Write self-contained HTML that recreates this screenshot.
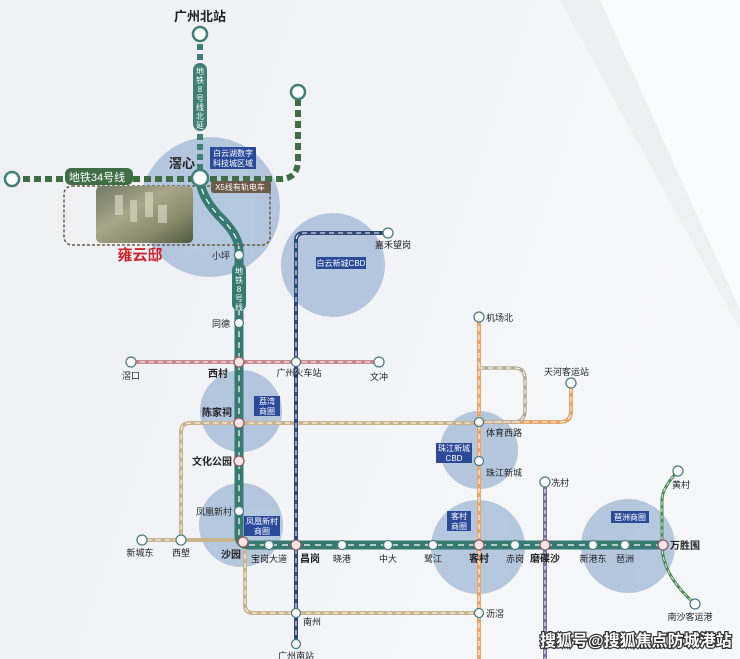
<!DOCTYPE html>
<html><head><meta charset="utf-8">
<style>
html,body{margin:0;padding:0;width:740px;height:659px;overflow:hidden;background:#f2f3f6}
svg{display:block}
text{font-family:"Liberation Sans","Noto Sans CJK SC",sans-serif;fill:#222}
</style></head><body>
<svg width="740" height="659" viewBox="0 0 740 659" xmlns="http://www.w3.org/2000/svg">
<defs>
<linearGradient id="bg" x1="0" y1="0" x2="1" y2="0.3">
<stop offset="0" stop-color="#eef0f4"/><stop offset="1" stop-color="#f6f7f9"/>
</linearGradient>
<linearGradient id="ph" x1="0" y1="0" x2="1" y2="1">
<stop offset="0" stop-color="#6f7a62"/><stop offset="0.4" stop-color="#a9a58a"/><stop offset="0.7" stop-color="#8a8a6c"/><stop offset="1" stop-color="#4c5a3e"/>
</linearGradient>
</defs>
<rect width="740" height="659" fill="url(#bg)"/>
<polygon points="600,0 740,0 740,310" fill="#fafbfc"/>
<polygon points="560,0 600,0 740,310 740,330" fill="#e9ebef" opacity="0.6"/>

<g fill="#a9bfd9" opacity="0.85">
<circle cx="210" cy="207" r="70"/>
<circle cx="333" cy="265" r="52"/>
<circle cx="241" cy="411" r="41"/>
<circle cx="241" cy="525" r="42"/>
<circle cx="479" cy="450" r="39"/>
<circle cx="478" cy="547" r="47"/>
<circle cx="628" cy="546" r="47"/>
</g>

<g fill="none" stroke="#c9b48e" stroke-width="4">
<path d="M479,423 H190 Q181,423 181,432 V540 H142"/>
<path d="M181,540 H239"/>
<path d="M245,545 V605 Q245,613 253,613 H479"/>
</g>
<g fill="none" stroke="#fff" stroke-width="1" stroke-dasharray="5 4">
<path d="M479,423 H190 Q181,423 181,432 V540 H142"/>
<path d="M245,545 V605 Q245,613 253,613 H479"/>
</g>

<g fill="none" stroke="#eaa56a" stroke-width="4">
<path d="M479,317 V659"/>
<path d="M479,422 H560 Q571,422 571,411 V383"/>
</g>
<path d="M479,368 H515 Q525,368 525,380 V410 Q525,422 513,422 H479" fill="none" stroke="#b9ab93" stroke-width="3.5"/>
<g fill="none" stroke="#fff" stroke-width="1" stroke-dasharray="5 4">
<path d="M479,317 V659"/><path d="M479,422 H560 Q571,422 571,411 V383"/>
<path d="M479,368 H515 Q525,368 525,380 V410 Q525,422 513,422 H479"/>
</g>

<path d="M131,362 H379" stroke="#c98a8f" stroke-width="4"/>
<path d="M131,362 H379" stroke="#fff" stroke-width="1" stroke-dasharray="5 4"/>

<path d="M296,644 V241 Q296,233 304,233 H388" fill="none" stroke="#2f4a7a" stroke-width="4"/>
<path d="M296,644 V241 Q296,233 304,233 H388" fill="none" stroke="#fff" stroke-width="1" stroke-dasharray="5 4"/>

<path d="M545,482 V659" stroke="#6f73a6" stroke-width="4"/>
<path d="M545,482 V659" stroke="#fff" stroke-width="1" stroke-dasharray="4 3"/>

<path d="M678,471 Q662,488 662,500 V545 Q662,575 695,604" fill="none" stroke="#4b8a55" stroke-width="3"/>
<path d="M678,471 Q662,488 662,500 V545 Q662,575 695,604" fill="none" stroke="#fff" stroke-width="0.8" stroke-dasharray="4 3"/>

<path d="M12,179 H280 Q298,179 298,160 V92" fill="none" stroke="#3f6e45" stroke-width="6" stroke-dasharray="7 4"/>
<path d="M200,34 V178" stroke="#3f7f76" stroke-width="6" stroke-dasharray="6 4"/>
<rect x="193" y="63" width="14" height="68" rx="7" fill="#3f7f76"/>
<text font-size="8" style="fill:#fff" text-anchor="middle">
<tspan x="200" y="74">地</tspan><tspan x="200" y="83">铁</tspan><tspan x="200" y="92">8</tspan><tspan x="200" y="101">号</tspan><tspan x="200" y="110">线</tspan><tspan x="200" y="119">北</tspan><tspan x="200" y="128">延</tspan>
</text>

<path d="M200,178 Q200,195 218,215 Q239,235 239,250 V535 Q239,545 249,545 H665" fill="none" stroke="#367a72" stroke-width="9"/>
<path d="M200,178 Q200,195 218,215 Q239,235 239,250 V535 Q239,545 249,545 H665" fill="none" stroke="#fff" stroke-width="1.2" stroke-dasharray="6 5"/>
<rect x="232" y="263" width="14" height="48" rx="7" fill="#367a72"/>
<text font-size="8" style="fill:#fff" text-anchor="middle"><tspan x="239" y="274">地</tspan><tspan x="239" y="283">铁</tspan><tspan x="239" y="292">8</tspan><tspan x="239" y="301">号</tspan><tspan x="239" y="310">线</tspan></text>

<rect x="64" y="186" width="206" height="59" rx="8" fill="none" stroke="#6b5a48" stroke-width="1.5" stroke-dasharray="3 2"/>
<rect x="96" y="186" width="97" height="57" rx="5" fill="url(#ph)"/>
<g fill="#d8d4c0" opacity="0.7"><rect x="115" y="195" width="8" height="20"/><rect x="130" y="200" width="7" height="22"/><rect x="145" y="192" width="8" height="25"/><rect x="158" y="205" width="9" height="18"/></g>
<text x="140" y="260" font-size="15" font-weight="bold" style="fill:#d0202a" text-anchor="middle">雍云邸</text>

<rect x="65" y="168" width="68" height="17" rx="6" fill="#3f6e45"/>
<text x="97" y="181" font-size="11" style="fill:#fff" text-anchor="middle">地铁34号线</text>
<rect x="210" y="147" width="46" height="22" fill="#2b4a9a"/>
<text font-size="8" style="fill:#fff" text-anchor="middle"><tspan x="233" y="156">白云湖数字</tspan><tspan x="233" y="166">科技城区域</tspan></text>
<rect x="211" y="181" width="60" height="12" rx="3" fill="#6b5a48"/>
<text x="240" y="190" font-size="8" style="fill:#fff" text-anchor="middle">X5线有轨电车</text>
<rect x="316" y="257" width="50" height="12" fill="#2b4a9a"/>
<text x="341" y="266" font-size="8" style="fill:#fff" text-anchor="middle">白云新城CBD</text>
<rect x="254" y="396" width="26" height="20" fill="#2b4a9a"/>
<text font-size="8" style="fill:#fff" text-anchor="middle"><tspan x="267" y="404">荔湾</tspan><tspan x="267" y="414">商圈</tspan></text>
<rect x="244" y="516" width="36" height="20" fill="#2b4a9a"/>
<text font-size="8" style="fill:#fff" text-anchor="middle"><tspan x="262" y="524">凤凰新村</tspan><tspan x="262" y="534">商圈</tspan></text>
<rect x="436" y="443" width="36" height="20" fill="#2b4a9a"/>
<text font-size="8" style="fill:#fff" text-anchor="middle"><tspan x="454" y="451">珠江新城</tspan><tspan x="454" y="461">CBD</tspan></text>
<rect x="447" y="511" width="24" height="20" fill="#2b4a9a"/>
<text font-size="8" style="fill:#fff" text-anchor="middle"><tspan x="459" y="519">客村</tspan><tspan x="459" y="529">商圈</tspan></text>
<rect x="611" y="511" width="38" height="12" fill="#2b4a9a"/>
<text x="630" y="520" font-size="8" style="fill:#fff" text-anchor="middle">琶洲商圈</text>

<g fill="#fff" stroke="#3f7f76" stroke-width="2.5">
<circle cx="200" cy="34" r="7"/><circle cx="298" cy="92" r="7"/><circle cx="12" cy="179" r="7"/><circle cx="200" cy="178" r="8"/>
</g>
<g fill="#fff" stroke="#4d7c82" stroke-width="1.3">
<circle cx="239" cy="255" r="4.5"/><circle cx="239" cy="323" r="4.5"/><circle cx="239" cy="511" r="4.5"/>
<circle cx="131" cy="362" r="5"/><circle cx="379" cy="362" r="5"/><circle cx="296" cy="362" r="4.5"/>
<circle cx="388" cy="233" r="5"/><circle cx="296" cy="613" r="4.5"/><circle cx="296" cy="644" r="4.5"/>
<circle cx="479" cy="317" r="5"/><circle cx="479" cy="422" r="4.5"/><circle cx="479" cy="461" r="4.5"/><circle cx="479" cy="613" r="4.5"/>
<circle cx="571" cy="383" r="5"/><circle cx="545" cy="482" r="5"/><circle cx="678" cy="471" r="5"/><circle cx="695" cy="604" r="5"/>
<circle cx="142" cy="540" r="5"/><circle cx="181" cy="540" r="5"/>
<circle cx="269" cy="545" r="4.5"/><circle cx="342" cy="545" r="4.5"/><circle cx="388" cy="545" r="4.5"/><circle cx="433" cy="545" r="4.5"/><circle cx="515" cy="545" r="4.5"/><circle cx="593" cy="545" r="4.5"/><circle cx="625" cy="545" r="4.5"/>
</g>
<g fill="#fbe4e6" stroke="#8a5a60" stroke-width="1.3">
<circle cx="239" cy="362" r="5"/><circle cx="239" cy="423" r="5"/><circle cx="239" cy="461" r="5"/><circle cx="243" cy="542" r="5"/>
<circle cx="296" cy="545" r="5"/><circle cx="479" cy="545" r="5"/><circle cx="545" cy="545" r="5"/><circle cx="663" cy="545" r="5"/>
</g>

<g font-size="9">
<text x="200" y="21" font-size="13" font-weight="bold" text-anchor="middle">广州北站</text>
<text x="182" y="168" font-size="13" font-weight="bold" text-anchor="middle">滘心</text>
<text x="230" y="259" text-anchor="end">小坪</text>
<text x="230" y="327" text-anchor="end">同德</text>
<text x="131" y="379" text-anchor="middle">滘口</text>
<text x="218" y="377" font-size="10" font-weight="bold" text-anchor="middle">西村</text>
<text x="299" y="376" text-anchor="middle">广州火车站</text>
<text x="379" y="380" text-anchor="middle">文冲</text>
<text x="232" y="416" font-size="10" font-weight="bold" text-anchor="end">陈家祠</text>
<text x="232" y="465" font-size="10" font-weight="bold" text-anchor="end">文化公园</text>
<text x="232" y="515" text-anchor="end">凤凰新村</text>
<text x="140" y="556" text-anchor="middle">新城东</text>
<text x="181" y="556" text-anchor="middle">西塱</text>
<text x="231" y="558" font-size="10" font-weight="bold" text-anchor="middle">沙园</text>
<text x="269" y="562" text-anchor="middle">宝岗大道</text>
<text x="310" y="562" font-size="10" font-weight="bold" text-anchor="middle">昌岗</text>
<text x="342" y="562" text-anchor="middle">晓港</text>
<text x="388" y="562" text-anchor="middle">中大</text>
<text x="433" y="562" text-anchor="middle">鹭江</text>
<text x="479" y="562" font-size="10" font-weight="bold" text-anchor="middle">客村</text>
<text x="515" y="562" text-anchor="middle">赤岗</text>
<text x="545" y="562" font-size="10" font-weight="bold" text-anchor="middle">磨碟沙</text>
<text x="593" y="562" text-anchor="middle">新港东</text>
<text x="625" y="562" text-anchor="middle">琶洲</text>
<text x="670" y="549" font-size="10" font-weight="bold">万胜围</text>
<text x="375" y="248">嘉禾望岗</text>
<text x="303" y="625">南州</text>
<text x="296" y="659" text-anchor="middle">广州南站</text>
<text x="486" y="321">机场北</text>
<text x="544" y="375">天河客运站</text>
<text x="486" y="436">体育西路</text>
<text x="486" y="476">珠江新城</text>
<text x="486" y="617">沥滘</text>
<text x="551" y="486">冼村</text>
<text x="672" y="488">黄村</text>
<text x="690" y="620" text-anchor="middle">南沙客运港</text>
</g>
<text x="540" y="646" font-size="16" font-weight="bold" style="fill:#fff;stroke:#333;stroke-width:2.5;paint-order:stroke">搜狐号@搜狐焦点防城港站</text>
</svg>
</body></html>
